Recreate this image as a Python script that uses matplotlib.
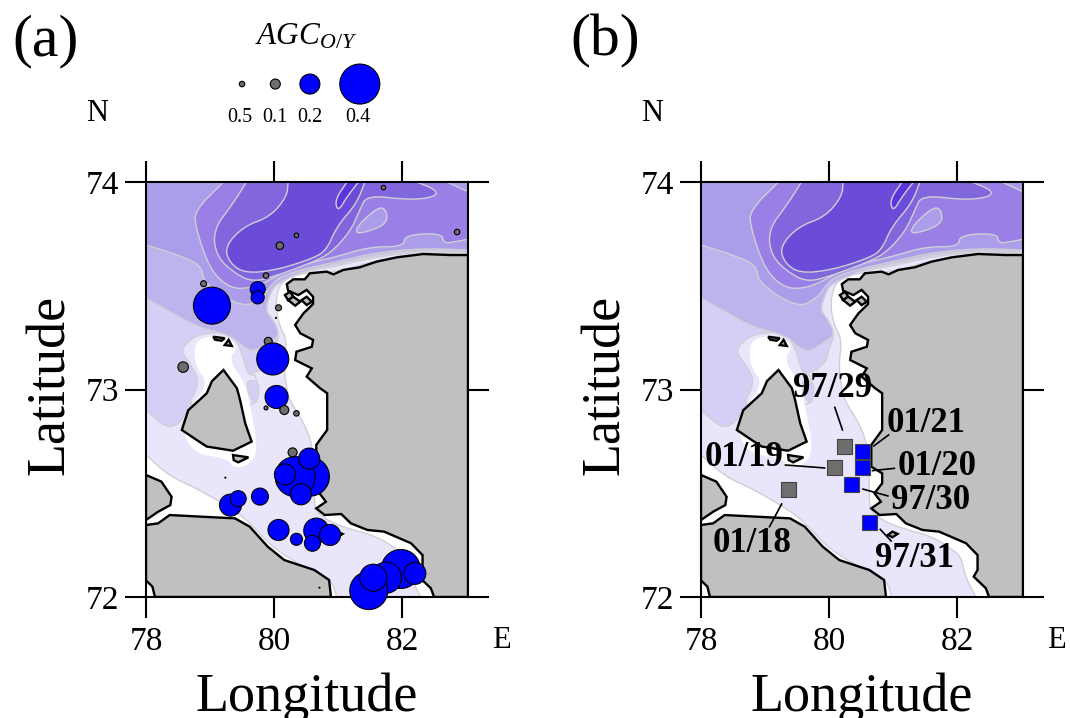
import matplotlib
matplotlib.use('Agg')
import matplotlib.pyplot as plt
from matplotlib.patches import Polygon

plt.rcParams['font.family'] = ['Liberation Serif', 'DejaVu Serif']
plt.rcParams['mathtext.fontset'] = 'custom'
plt.rcParams['mathtext.it'] = 'Liberation Serif:italic'
plt.rcParams['mathtext.rm'] = 'Liberation Serif'

W, E, S, N = 78, 83.03, 72, 74

# land, lon/lat
east_land = [(83.03, 73.648), (82.75, 73.648), (82.33, 73.653), (81.92, 73.637), (81.60, 73.616), (81.34, 73.589),
             (81.08, 73.576), (80.93, 73.555), (80.82, 73.568), (80.56, 73.560), (80.48, 73.531), (80.30, 73.531),
             (80.20, 73.508), (80.22, 73.476), (80.38, 73.455), (80.51, 73.48), (80.61, 73.447), (80.61, 73.412),
             (80.46, 73.367), (80.33, 73.311), (80.41, 73.271), (80.61, 73.239), (80.59, 73.206), (80.35, 73.182),
             (80.33, 73.142), (80.59, 73.102), (80.51, 73.062), (80.72, 73.006), (80.83, 72.982), (80.83, 72.805),
             (80.66, 72.733), (80.66, 72.628), (80.83, 72.596), (80.83, 72.548), (80.71, 72.50), (80.81, 72.459),
             (80.66, 72.427), (80.79, 72.395), (81.05, 72.40), (81.20, 72.355), (81.46, 72.323), (81.72, 72.315),
             (82.14, 72.259), (82.32, 72.202), (82.32, 72.13), (82.26, 72.098), (82.45, 72.042), (82.50, 72.0),
             (83.03, 72.0)]
south_land = [(78, 72.08), (78.10, 72.05), (78.14, 72.0), (80.89, 72.0), (80.86, 72.082), (80.63, 72.13),
              (80.16, 72.178), (79.90, 72.243), (79.62, 72.339), (79.39, 72.379), (78.87, 72.387), (78.37, 72.395),
              (78.19, 72.355), (78, 72.347)]
west_land = [(78, 72.588), (78.24, 72.556), (78.40, 72.483), (78.38, 72.443), (78.19, 72.411), (78, 72.371)]
island = [(79.21, 73.094), (79.03, 73.04), (78.95, 72.982), (78.66, 72.90), (78.56, 72.805), (78.79, 72.757),
          (78.95, 72.725), (79.36, 72.705), (79.65, 72.749), (79.55, 72.837), (79.47, 72.949), (79.42, 73.006)]
islets = [[(79.36, 72.684), (79.60, 72.673), (79.44, 72.649), (79.37, 72.66)],
          [(80.17, 73.455), (80.25, 73.471), (80.30, 73.447), (80.22, 73.431)],
          [(80.22, 73.431), (80.30, 73.447), (80.41, 73.423), (80.33, 73.404)],
          [(80.43, 73.431), (80.51, 73.447), (80.59, 73.423), (80.51, 73.407)],
          [(79.05, 73.254), (79.23, 73.247), (79.18, 73.235), (79.08, 73.24)],
          [(79.29, 73.239), (79.34, 73.21), (79.23, 73.214)],
          [(80.92, 72.299), (80.99, 72.315), (81.07, 72.304), (80.99, 72.288)]]

# depth bands, shallow to deep
band_a = [(78, 72.684), (78.38, 72.58), (78.79, 72.524), (79.42, 72.411), (79.68, 72.339), (79.99, 72.235),
          (80.46, 72.146), (80.90, 72.082), (80.98, 72.0), (82.29, 72.0), (82.13, 72.098), (82.06, 72.194),
          (81.93, 72.227), (81.62, 72.291), (81.05, 72.339), (80.79, 72.379), (80.63, 72.419), (80.63, 72.564),
          (80.60, 72.733), (80.47, 72.837), (80.24, 72.949), (80.20, 73.006), (80.15, 73.11), (80.20, 73.239),
          (80.09, 73.303), (80.02, 73.399), (80.07, 73.496), (80.20, 73.536), (80.51, 73.565), (80.98, 73.565),
          (81.6, 73.622), (82.33, 73.658), (83.03, 73.652), (83.03, 74), (78, 74)]
band_b = [(78, 72.901), (78.32, 72.813), (78.53, 72.837), (78.64, 72.901), (78.90, 72.982), (79.05, 73.046),
          (79.72, 73.078), (79.95, 73.13), (80.0, 73.2), (80.09, 73.263), (79.99, 73.335), (79.86, 73.383),
          (79.94, 73.463), (80.04, 73.512), (80.51, 73.572), (80.98, 73.595), (81.6, 73.64), (82.33, 73.665),
          (83.03, 73.658), (83.03, 74), (78, 74)]
band_c = [(78, 73.439), (78.43, 73.367), (78.79, 73.303), (79.31, 73.263), (79.60, 73.187), (79.73, 73.19),
          (79.94, 73.231), (80.09, 73.263), (79.99, 73.335), (79.86, 73.383), (79.94, 73.463), (80.04, 73.512),
          (80.51, 73.575), (80.98, 73.605), (81.6, 73.65), (82.33, 73.672), (83.03, 73.664), (83.03, 74), (78, 74)]
band_d = [(78, 73.696), (78.43, 73.656), (78.87, 73.60), (78.90, 73.512), (79.52, 73.391), (79.83, 73.447),
          (79.94, 73.496), (80.09, 73.544), (80.51, 73.584), (80.98, 73.615), (81.60, 73.66), (82.33, 73.68),
          (83.03, 73.672), (83.03, 74), (78, 74)]
band_e = [(79.21, 74), (78.77, 73.865), (78.77, 73.785), (79.0, 73.576), (79.31, 73.488), (79.63, 73.488),
          (79.94, 73.528), (80.30, 73.592), (80.98, 73.64), (81.5, 73.688), (82.02, 73.688), (82.05, 73.745),
          (82.62, 73.753), (82.65, 73.704), (82.83, 73.712), (83.03, 73.724), (83.03, 73.953), (82.70, 74)]
band_f = [(79.57, 74), (79.36, 73.897), (79.05, 73.769), (79.10, 73.64), (79.42, 73.552), (79.68, 73.52),
          (79.99, 73.544), (80.56, 73.608), (80.88, 73.656), (81.19, 73.761), (81.34, 73.865), (81.45, 73.937),
          (82.13, 73.913), (82.52, 73.929), (82.54, 73.961), (82.23, 74)]
band_g = [(80.22, 74), (80.20, 73.929), (79.94, 73.833), (79.52, 73.785), (79.23, 73.688), (79.31, 73.608),
          (79.55, 73.56), (80.04, 73.576), (80.61, 73.632), (80.82, 73.672), (80.98, 73.785), (81.29, 73.897),
          (81.42, 74)]
band_h = [(81.14, 74), (80.95, 73.913), (81.0, 73.857), (81.14, 73.929), (81.32, 74)]
pale_patch = [(81.29, 73.785), (81.63, 73.881), (81.76, 73.865), (81.76, 73.793), (81.29, 73.745)]
island_ring = [(78.53, 73.19), (78.74, 73.255), (79.0, 73.274), (79.31, 73.274), (79.47, 73.206), (79.60, 73.062),
               (79.73, 73.078), (79.75, 72.9), (78.6, 72.9), (78.85, 73.03), (78.7, 73.12)]
pocket = [(79.57, 73.046), (79.76, 73.04), (79.76, 72.965), (79.70, 72.925), (79.60, 72.982)]
island_white = [(78.74, 73.198), (78.87, 73.255), (79.26, 73.255), (79.44, 73.206), (79.29, 73.142), (79.55, 73.03),
                (79.63, 72.917), (79.76, 72.70), (79.57, 72.628), (79.36, 72.625), (79.26, 72.668), (78.74, 72.692),
                (78.56, 72.805), (78.66, 72.90), (78.97, 73.03), (78.79, 73.102)]

# panel a stations
agc_lon = [79.03, 78.90, 79.745, 79.745, 79.875, 80.09, 80.35, 81.71, 82.86, 80.07, 80.03, 79.91, 79.98, 78.58,
           80.04, 80.16, 79.875, 80.35, 80.29, 80.56, 80.33, 80.17, 80.55, 80.42, 79.78, 79.32, 79.44, 79.24,
           80.07, 80.66, 80.875, 80.60, 80.35, 81.98, 82.20, 81.75, 81.48, 81.55, 80.71]
agc_lat = [73.404, 73.51, 73.484, 73.444, 73.549, 73.693, 73.743, 73.973, 73.759, 73.394, 73.345, 73.232, 73.147,
           73.108, 72.964, 72.901, 72.911, 72.885, 72.697, 72.58, 72.58, 72.591, 72.667, 72.495, 72.484, 72.443,
           72.474, 72.575, 72.323, 72.32, 72.299, 72.259, 72.278, 72.135, 72.114, 72.093, 72.031, 72.093, 72.045]
agc_val = [0.37, 0.06, 0.15, 0.13, 0.055, 0.075, 0.045, 0.045, 0.055, 0.06, 0.01, 0.08, 0.32, 0.105, 0.23, 0.09,
           0.04, 0.055, 0.09, 0.39, 0.40, 0.21, 0.21, 0.21, 0.17, 0.22, 0.16, 0.01, 0.21, 0.25, 0.21, 0.16, 0.12,
           0.39, 0.22, 0.31, 0.38, 0.27, 0.01]

legend_val = [0.055, 0.10, 0.20, 0.40]
legend_labels = ['0.5', '0.1', '0.2', '0.4']
legend_lon = [79.50, 80.02, 80.56, 81.34]
legend_text_lon = [79.47, 80.02, 80.56, 81.31]

# panel b stations
stn_names = ['97/29', '01/21', '01/19', '01/20', '97/30', '01/18', '97/31']
stn_lon = [80.24, 80.53, 80.09, 80.53, 80.355, 79.365, 80.635]
stn_lat = [72.725, 72.702, 72.623, 72.623, 72.541, 72.52, 72.36]
stn_color = ['#6e6e6e', '#0000ff', '#6e6e6e', '#0000ff', '#0000ff', '#6e6e6e', '#0000ff']
name_lon = [80.05, 81.51, 78.67, 81.69, 81.59, 78.79, 81.33]
name_lat = [73.007, 72.837, 72.673, 72.631, 72.467, 72.259, 72.186]
lead_from = [(80.09, 72.914), (80.93, 72.781), (79.32, 72.636), (81.02, 72.62), (80.92, 72.487), (79.07, 72.339), (80.97, 72.27)]
lead_to = [(80.21, 72.805), (80.70, 72.728), (79.93, 72.622), (80.68, 72.609), (80.53, 72.52), (79.26, 72.448), (80.80, 72.326)]


def soften(pts, passes=2):
    # round the corners, points on the frame stay put (they are doubled up)
    out = []
    for lon, lat in pts:
        out.append((lon, lat))
        if lon in (W, E) or lat in (S, N):
            out.append((lon, lat))
            out.append((lon, lat))
    for _ in range(passes):
        new = []
        for i in range(len(out)):
            a = out[i]
            b = out[(i + 1) % len(out)]
            new.append((0.75 * a[0] + 0.25 * b[0], 0.75 * a[1] + 0.25 * b[1]))
            new.append((0.25 * a[0] + 0.75 * b[0], 0.25 * a[1] + 0.75 * b[1]))
        out = new
    return out


def draw_map(ax):
    bands = [(band_a, '#e9e5fa'), (band_b, '#d6cff5'), (island_ring, '#e9e5fa'), (pocket, '#d6cff5'),
             (island_white, '#ffffff'), (band_c, '#bfb3ee'), (band_d, '#ac9dea'), (band_e, '#9a80e6'),
             (pale_patch, '#ac9dea'), (band_f, '#8266de'), (band_g, '#6b4cd8'), (band_h, '#5a35dd')]
    for pts, col in bands:
        edge = '#cfcfd6' if col != '#ffffff' else 'none'
        ax.add_patch(Polygon(soften(pts), closed=True, facecolor=col, edgecolor=edge, lw=1.0, zorder=1))
    for pts in [east_land, south_land, west_land, island] + islets:
        ax.add_patch(Polygon(pts, closed=True, facecolor='#c0c0c0', edgecolor='black', lw=1.7, zorder=2))
    ax.set_xlim(W, E)
    ax.set_ylim(S, N)
    ax.set_xticks([78, 80, 82])
    ax.set_yticks([72, 73, 74])
    ax.tick_params(direction='out', length=15, width=1.5, labelsize=24, top=True, right=True, pad=6)
    ax.tick_params(axis='y', pad=4)
    for sp in ax.spines.values():
        sp.set_linewidth(1.5)
        sp.set_zorder(3)
    ax.set_xlabel('Longitude', fontsize=39)
    ax.set_ylabel('Latitude', fontsize=39)
    ax.xaxis.set_label_coords(0.5, -0.183)
    ax.yaxis.set_label_coords(-0.217, 0.51)
    ax.text(1.105, -0.105, 'E', transform=ax.transAxes, fontsize=22, ha='center', va='center')
    ax.text(-0.153, 1.166, 'N', transform=ax.transAxes, fontsize=22, ha='center', va='center')


def px(v):
    # marker area for a circle whose pixel diameter is 100*v
    return (v * 100 * 0.72) ** 2


fig = plt.figure(figsize=(10.70, 7.18), dpi=100)
ax1 = fig.add_axes([146 / 1070, 1 - 597 / 718, 322 / 1070, 415 / 718])
ax2 = fig.add_axes([701 / 1070, 1 - 597 / 718, 322 / 1070, 415 / 718])
draw_map(ax1)
draw_map(ax2)

colors = ['#0000ff' if v > 0.11 else '#6e6e6e' for v in agc_val]
ax1.scatter(agc_lon, agc_lat, s=[px(v) for v in agc_val], c=colors, edgecolors='black', linewidths=0.8,
            zorder=5, clip_on=False)

leg_cols = ['#6e6e6e', '#6e6e6e', '#0000ff', '#0000ff']
ax1.scatter(legend_lon, [74.472] * 4, s=[px(v) for v in legend_val], c=leg_cols, edgecolors='black',
            linewidths=0.8, zorder=5, clip_on=False)
for lon, lab in zip(legend_text_lon, legend_labels):
    ax1.text(lon, 74.31, lab, fontsize=14.5, ha='center', va='center')
ax1.text(80.5, 74.70, r'$AGC_{O/Y}$', fontsize=22.5, ha='center', va='center')

ax2.scatter(stn_lon, stn_lat, s=(15 * 0.72) ** 2, marker='s', c=stn_color, edgecolors='#444444', linewidths=0.8,
            zorder=5)
for i in range(len(stn_names)):
    ax2.text(name_lon[i], name_lat[i], stn_names[i], fontsize=25, fontweight='bold', ha='center', va='center', zorder=6)
    ax2.plot([lead_from[i][0], lead_to[i][0]], [lead_from[i][1], lead_to[i][1]], color='black', lw=1.2, zorder=6)

fig.text(46 / 1070, 1 - 41 / 718, '(a)', fontsize=43, ha='center', va='center')
fig.text(605 / 1070, 1 - 41 / 718, '(b)', fontsize=43, ha='center', va='center')

plt.savefig('out.png', dpi=100)
